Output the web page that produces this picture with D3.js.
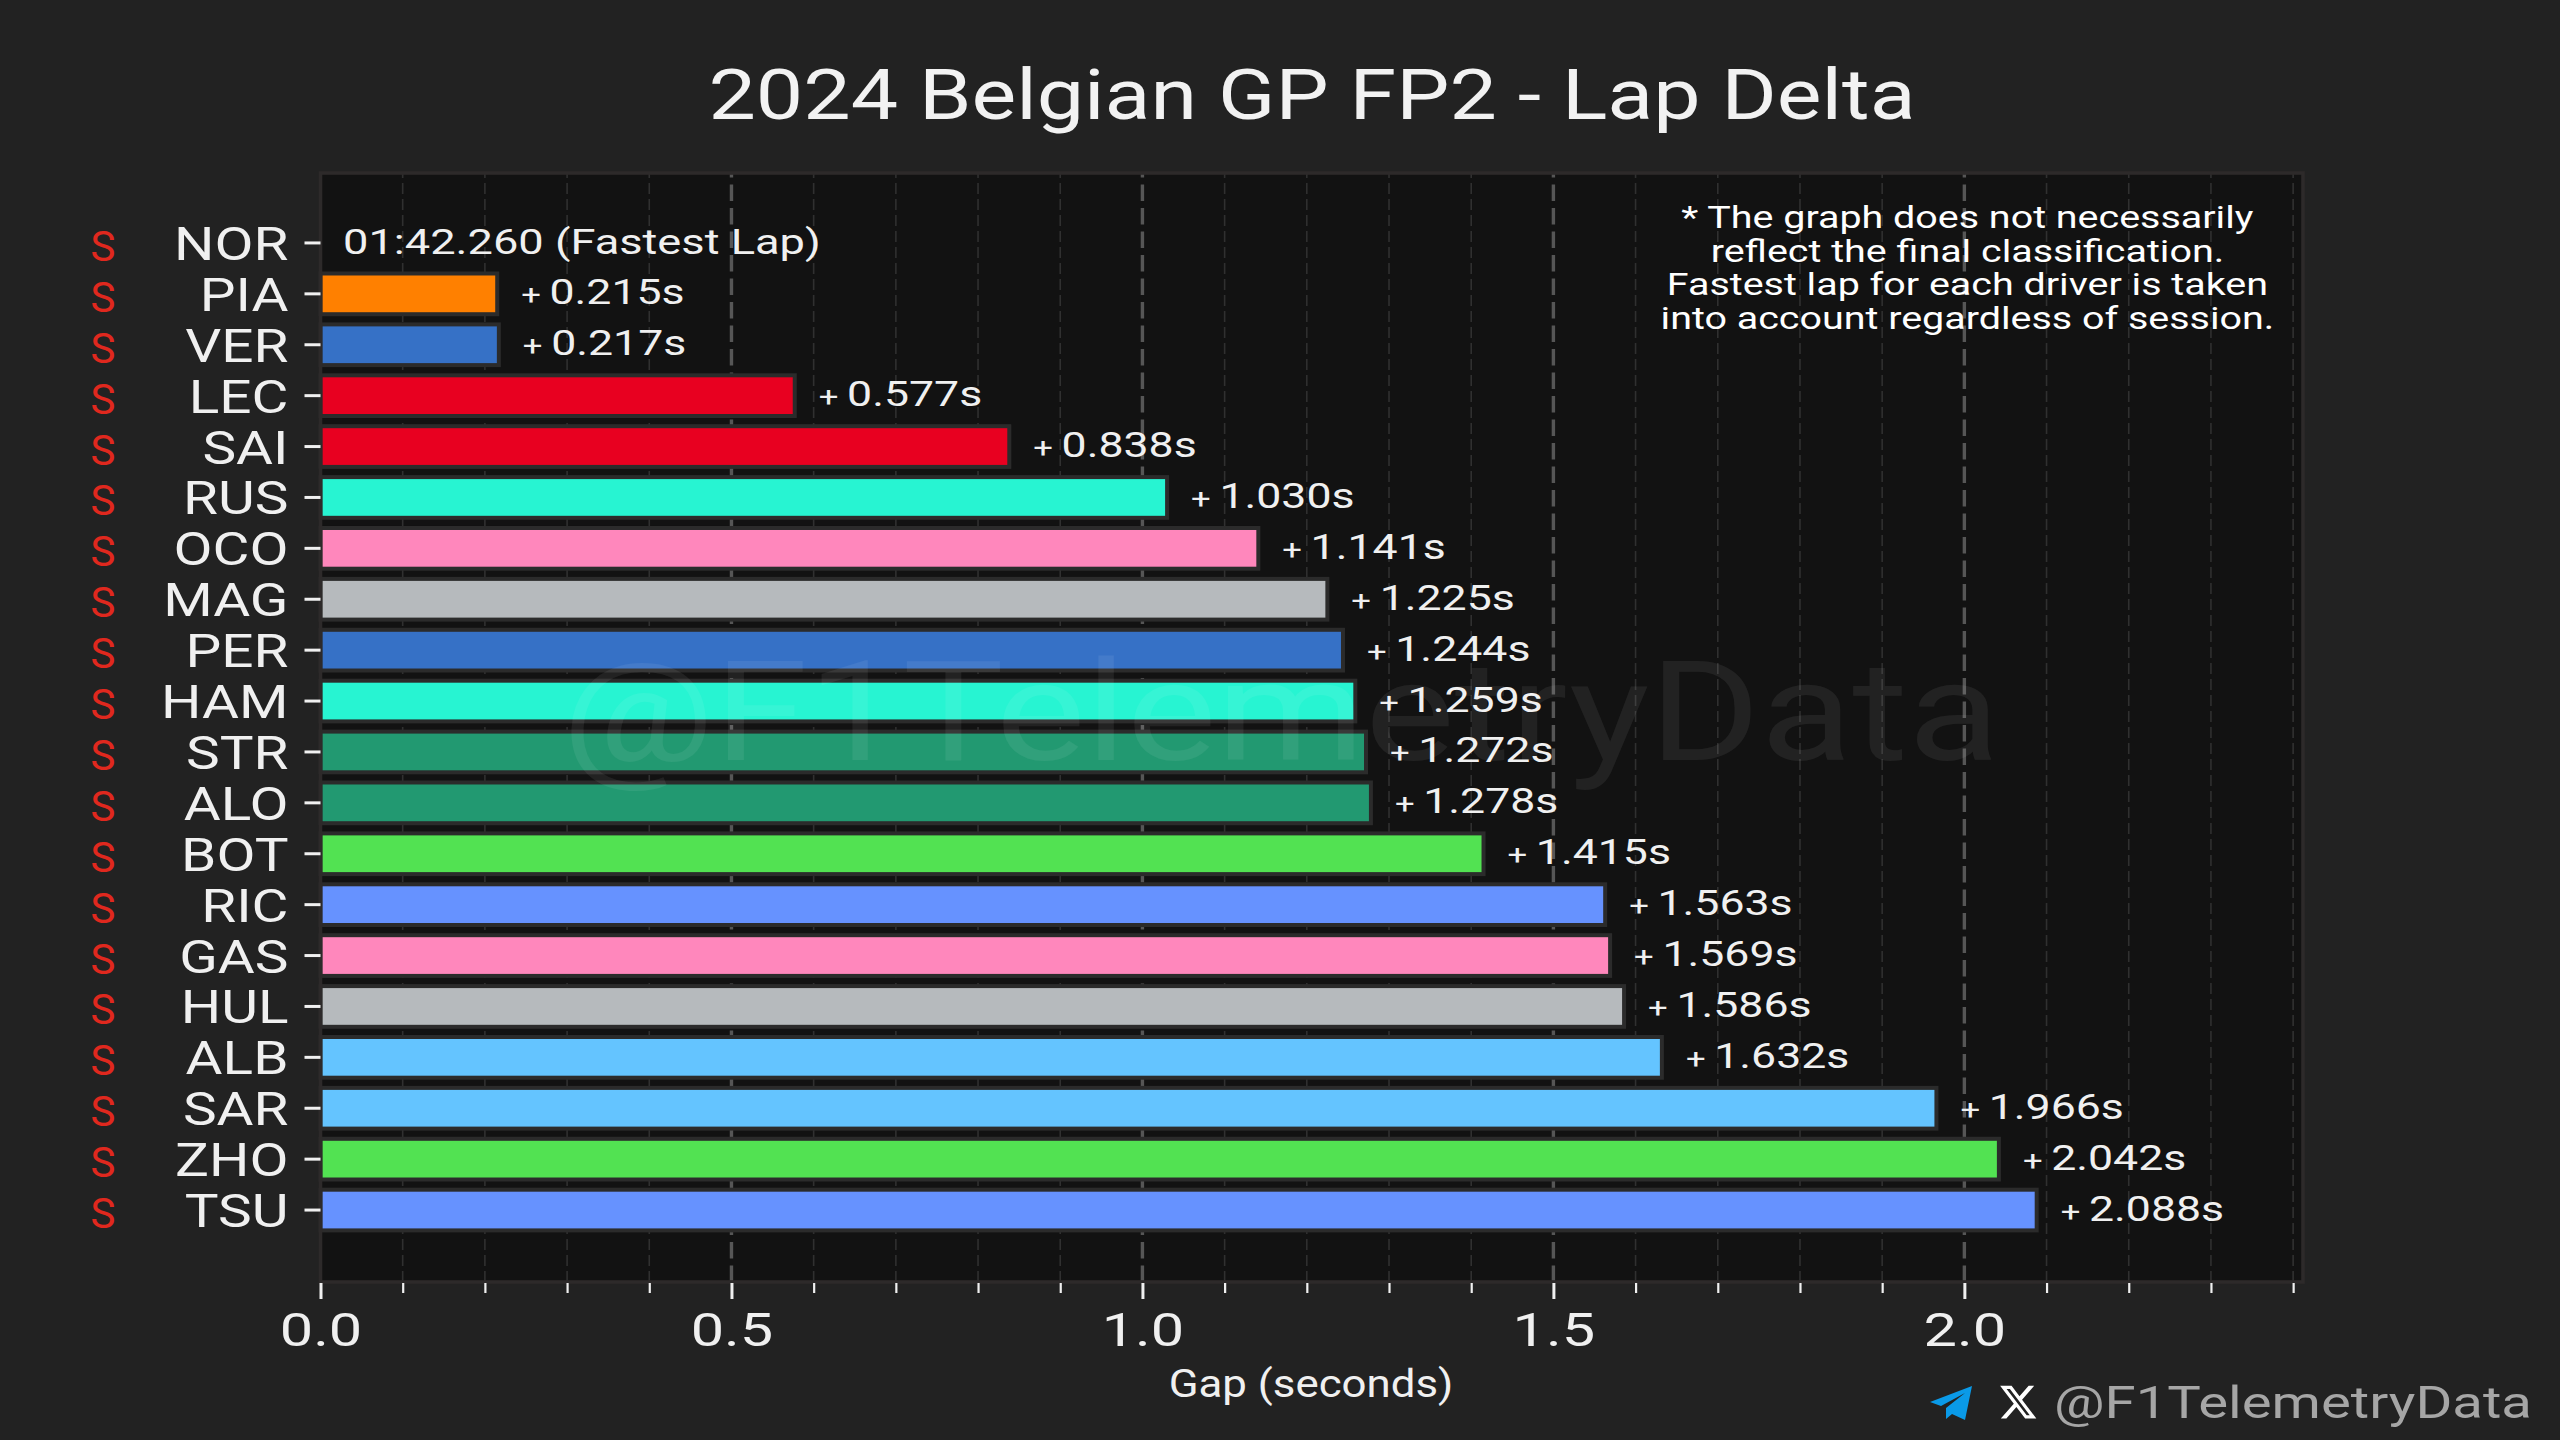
<!DOCTYPE html>
<html>
<head>
<meta charset="utf-8">
<script src="https://cdn.jsdelivr.net/npm/d3@7"></script>
<style>
  html, body { margin: 0; background: #222222; }
  text { font-family: Roboto, sans-serif; }
</style>
</head>
<body>
<div id="chart"></div>
<script>
// Data
const drivers = ["NOR","PIA","VER","LEC","SAI","RUS","OCO","MAG","PER","HAM","STR","ALO","BOT","RIC","GAS","HUL","ALB","SAR","ZHO","TSU"];
const gaps = [0,0.215,0.217,0.577,0.838,1.030,1.141,1.225,1.244,1.259,1.272,1.278,1.415,1.563,1.569,1.586,1.632,1.966,2.042,2.088];
const barColors = ["#FF8000","#FF8000","#3671C6","#E80020","#E80020","#27F4D2","#FF87BC","#B6BABD","#3671C6","#27F4D2","#229971","#229971","#52E252","#6692FF","#FF87BC","#B6BABD","#64C4FF","#64C4FF","#52E252","#6692FF"];
const compound = "S";
const majorTicks = [0,0.5,1.0,1.5,2.0];
const minorTicks = [0.1,0.2,0.3,0.4,0.6,0.7,0.8,0.9,1.1,1.2,1.3,1.4,1.6,1.7,1.8,1.9,2.1,2.2,2.3,2.4];
const fastestLap = "01:42.260 (Fastest Lap)";
const noteLines = ["* The graph does not necessarily","reflect the final classification.","Fastest lap for each driver is taken","into account regardless of session."];

const W = 2560, H = 1440;
const plot = { left: 320.5, right: 2303, top: 173, bottom: 1282 };

const svg = d3.select("#chart").append("svg")
  .attr("width", W).attr("height", H)
  .style("display", "block");

const x = d3.scaleLinear().domain([0, 2.412]).range([plot.left, plot.right]);
const y = d3.scaleBand().domain(drivers).range([217.5, 1235.5]).paddingInner(0.2).paddingOuter(0.1);
const rowY = d => y(d) + y.bandwidth() / 2;

// text squeezed or widened around its anchor, the fonts here are narrower than the original
function put(s, px, py, size, sx, anchor, fill) {
  return svg.append("text")
    .attr("transform", `translate(${px},${py}) scale(${sx},1)`)
    .attr("text-anchor", anchor)
    .attr("font-size", size)
    .attr("fill", fill)
    .text(s);
}

svg.append("rect").attr("x", plot.left).attr("y", plot.top)
  .attr("width", plot.right - plot.left).attr("height", plot.bottom - plot.top)
  .attr("fill", "#121212");

// grid, dashes run from the bottom up
const gridLine = d => `M${x(d)},${plot.bottom}V${plot.top}`;
svg.append("g").selectAll("path").data(minorTicks).join("path")
  .attr("d", gridLine).attr("stroke", "#303030").attr("stroke-width", 1.6)
  .attr("stroke-dasharray", "11,5").attr("fill", "none");
svg.append("g").selectAll("path").data(majorTicks.slice(1)).join("path")
  .attr("d", gridLine).attr("stroke", "#565656").attr("stroke-width", 3.4)
  .attr("stroke-dasharray", "16.5,7").attr("fill", "none");

// bars
const rows = drivers.map((d, i) => ({ driver: d, gap: gaps[i], color: barColors[i] }));
svg.append("g").selectAll("rect").data(rows.filter(d => d.gap > 0)).join("rect")
  .attr("x", x(0)).attr("y", d => y(d.driver))
  .attr("width", d => x(d.gap) - x(0)).attr("height", y.bandwidth())
  .attr("fill", d => d.color)
  .attr("stroke", "#2b2b2b").attr("stroke-width", 4);

// spines
svg.append("rect").attr("x", plot.left).attr("y", plot.top)
  .attr("width", plot.right - plot.left).attr("height", plot.bottom - plot.top)
  .attr("fill", "none").attr("stroke", "#2d2a2a").attr("stroke-width", 3.6);

// axes
const xMinor = svg.append("g").attr("transform", `translate(0,${plot.bottom + 1})`)
  .call(d3.axisBottom(x).tickValues(minorTicks).tickSize(10).tickFormat(""));
xMinor.select(".domain").remove();
xMinor.selectAll("line").attr("stroke", "#f0f0f0").attr("stroke-width", 2.2);

const xMajor = svg.append("g").attr("transform", `translate(0,${plot.bottom + 1})`)
  .call(d3.axisBottom(x).tickValues(majorTicks).tickSize(16).tickFormat(d3.format(".1f")));
xMajor.select(".domain").remove();
xMajor.selectAll("line").attr("stroke", "#f0f0f0").attr("stroke-width", 3);
xMajor.selectAll("text")
  .attr("y", 63).attr("dy", 0)
  .attr("font-size", 46.5).attr("font-family", "Roboto, sans-serif").attr("fill", "#f0f0f0")
  .attr("transform", "scale(1.28,1)");

const yScale = 1.22;
const yAxis = svg.append("g").attr("transform", `translate(${plot.left},0)`)
  .call(d3.axisLeft(y).tickSize(16).tickPadding(0));
yAxis.select(".domain").remove();
yAxis.selectAll("line").attr("stroke", "#f0f0f0").attr("stroke-width", 3);
yAxis.selectAll("text")
  .attr("x", -32 / yScale).attr("y", 17).attr("dy", 0)
  .attr("font-size", 46.5).attr("font-family", "Roboto, sans-serif").attr("fill", "#f0f0f0")
  .attr("transform", `scale(${yScale},1)`);

// compound letters
drivers.forEach(d => {
  put(compound, 103, rowY(d) + 18, 42, 1.0, "middle", "#e0281e");
});

// value labels
put(fastestLap, 343, rowY("NOR") + 11, 36, 1.256, "start", "#f0f0f0");
rows.filter(d => d.gap > 0).forEach(d => {
  const t = put("", x(d.gap) + 24, rowY(d.driver) + 10.5, 36, 1.24, "start", "#f0f0f0");
  t.append("tspan").attr("font-size", 28).text("+ ");
  t.append("tspan").text(d3.format(".3f")(d.gap) + "s");
});

// note
noteLines.forEach((s, i) => {
  put(s, x(2) + 3, 228 + i * 33.5, 32, 1.233, "middle", "#ffffff");
});

// titles
put("2024 Belgian GP FP2 - Lap Delta", 1312, 119, 70, 1.205, "middle", "#f2f2f2");
put("Gap (seconds)", 1311, 1397, 38, 1.153, "middle", "#f0f0f0");

// watermark
put("@F1TelemetryData", 1281, 760, 140, 1.21, "middle", "#ffffff").attr("fill-opacity", 0.07);
put("@F1TelemetryData", 2532, 1418, 44, 1.28, "end", "#a6a6a6");

// telegram plane and X logo
svg.append("path")
  .attr("d", "M1930,1402L1972,1386L1965,1420L1952,1414L1946,1419L1946,1408L1965,1393L1941,1406Z")
  .attr("fill", "#0a9ae8");
svg.append("path")
  .attr("transform", "translate(1998,1382) scale(1.68)")
  .attr("d", "M18.244 2.25h3.308l-7.227 8.26 8.502 11.24H16.17l-5.214-6.817L4.99 21.75H1.68l7.73-8.835L1.254 2.25H8.08l4.713 6.231zm-1.161 17.52h1.833L7.084 4.126H5.117z")
  .attr("fill", "#ffffff");
</script>
</body>
</html>
